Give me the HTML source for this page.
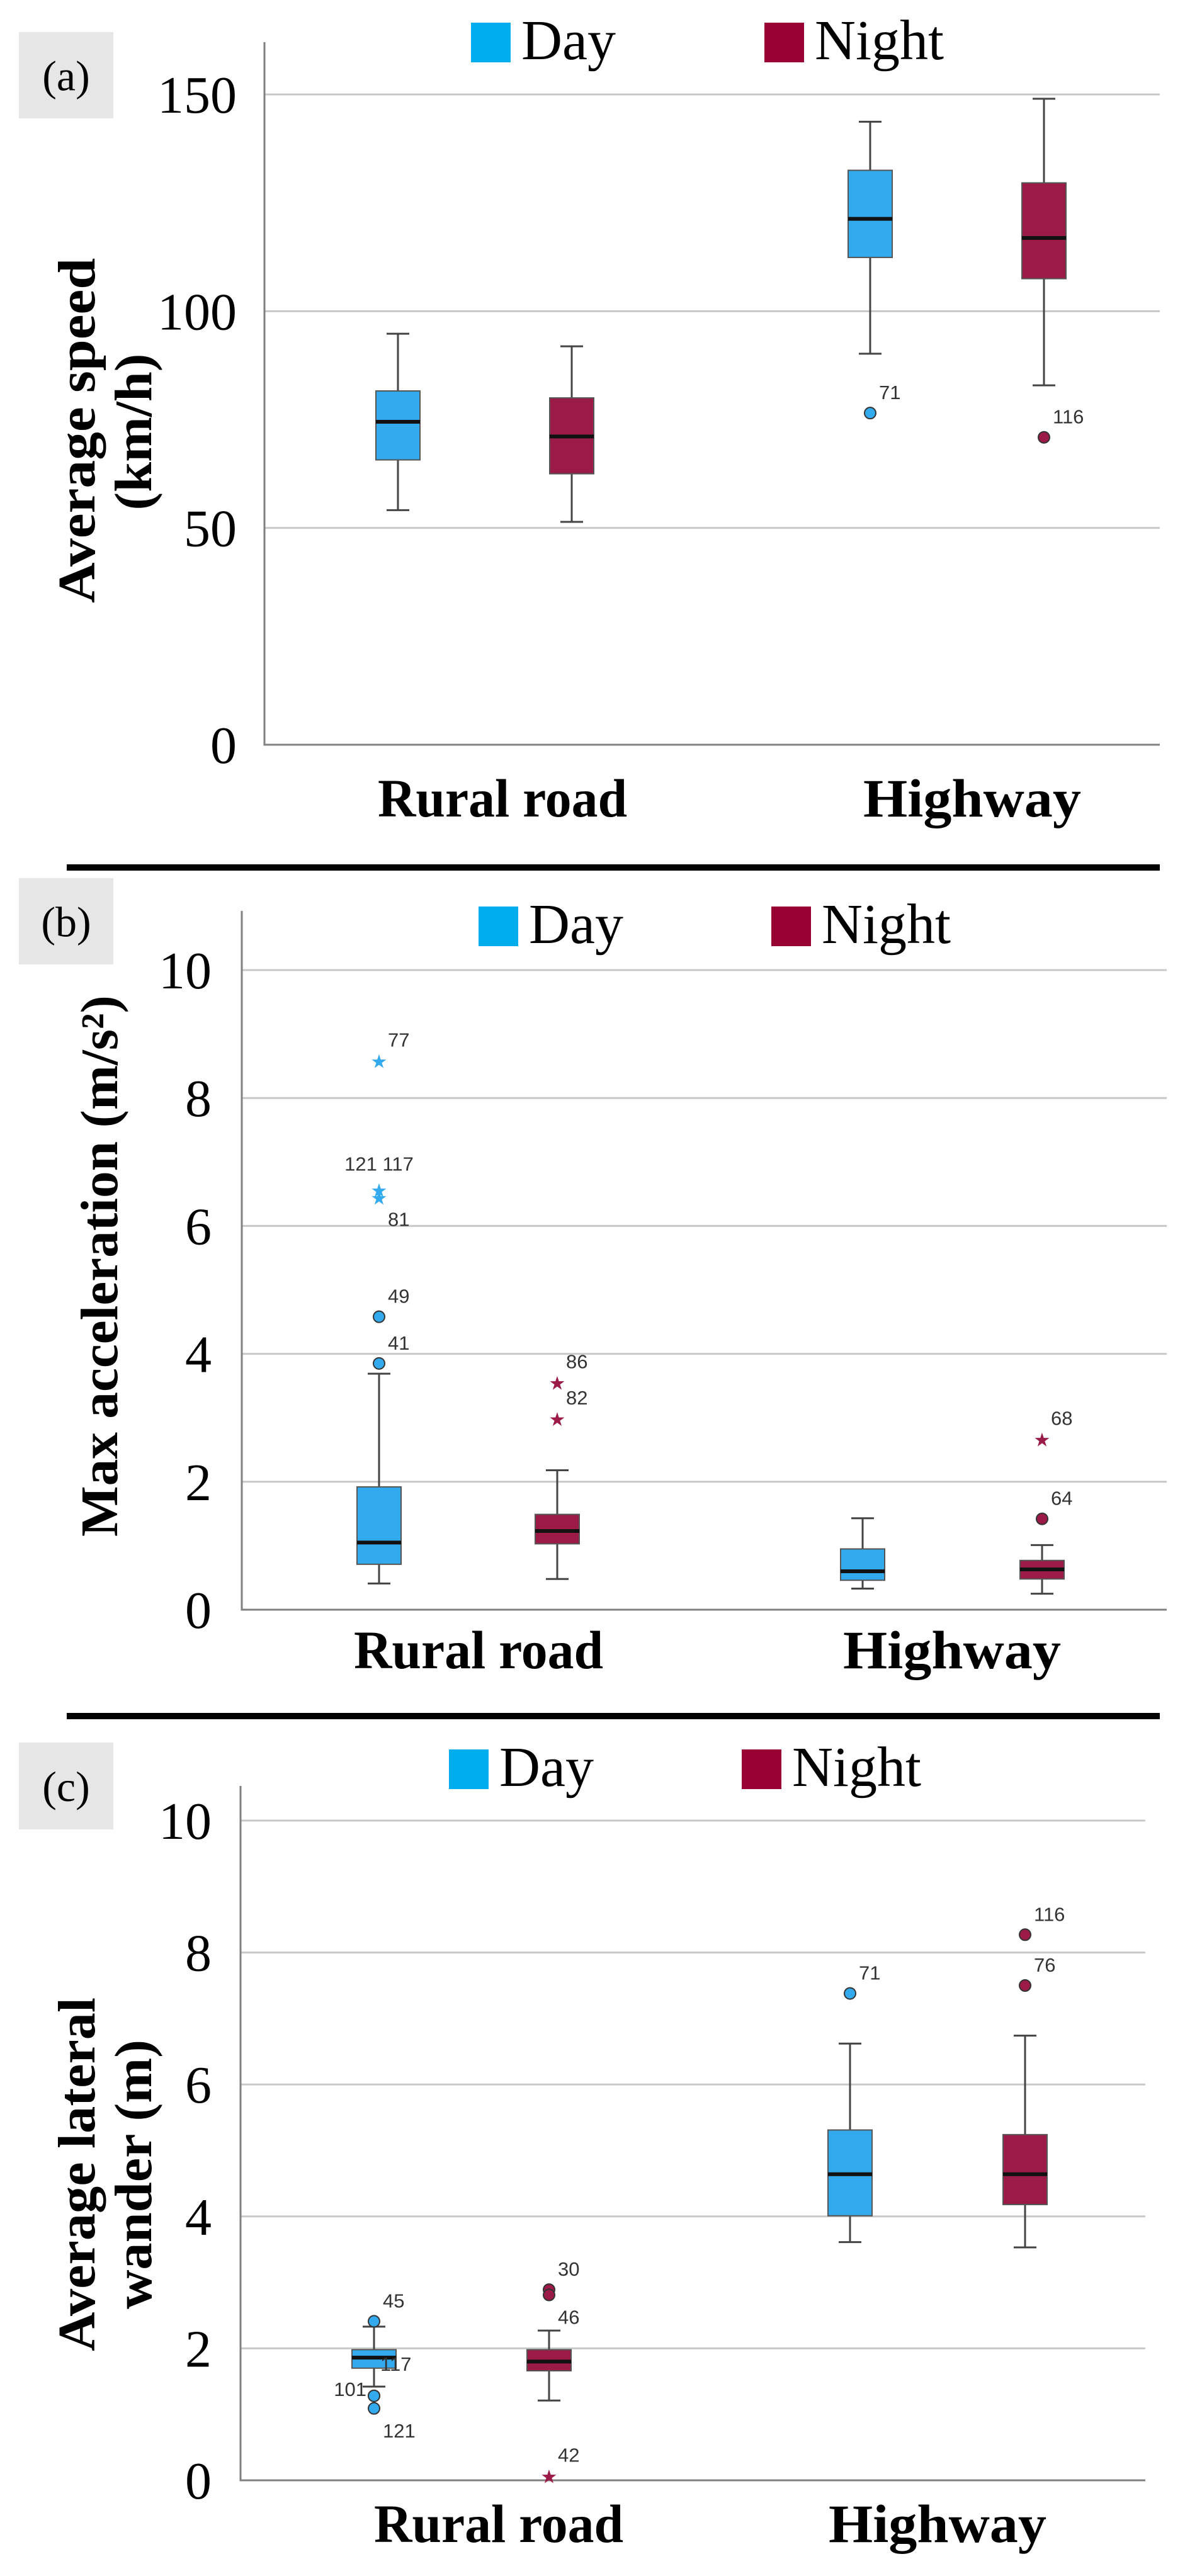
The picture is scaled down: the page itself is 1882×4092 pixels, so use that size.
<!DOCTYPE html>
<html><head><meta charset="utf-8"><style>
html,body{margin:0;padding:0;background:#fff;}
svg{display:block;}
</style></head><body>
<svg id="fig" width="1882" height="4092" viewBox="0 0 1882 4092" xmlns="http://www.w3.org/2000/svg"></svg>
<script>
// Panel (a) data: [low whisker, Q1, median, Q3, high whisker]
const categories = ["Rural road", "Highway"];
const dayA = [[54.1, 65.7, 74.5, 81.6, 94.8], [90.2, 112.4, 121.3, 132.5, 143.7]];
const nightA = [[51.4, 62.5, 71.1, 80.0, 91.9], [82.9, 107.5, 116.9, 129.6, 149.0]];
const outDayA = [[1, 76.5, "71", "c", "ne"]];
const outNightA = [[1, 70.9, "116", "c", "ne"]];
const ticksA = [0, 50, 100, 150];
// Panel (b)
const dayB = [[0.41, 0.71, 1.05, 1.92, 3.69], [0.33, 0.46, 0.60, 0.95, 1.43]];
const nightB = [[0.48, 1.03, 1.23, 1.49, 2.18], [0.25, 0.48, 0.63, 0.77, 1.01]];
const outDayB = [[0, 3.85, "41", "c", "ne"], [0, 4.58, "49", "c", "ne"], [0, 6.45, "81", "s", "se"], [0, 6.57, "121 117", "s", "n"], [0, 8.59, "77", "s", "ne"]];
const outNightB = [[0, 3.56, "86", "s", "ne"], [0, 2.99, "82", "s", "ne"], [1, 1.42, "64", "c", "ne"], [1, 2.67, "68", "s", "ne"]];
const ticksB = [0, 2, 4, 6, 8, 10];
// Panel (c)
const dayC = [[1.42, 1.70, 1.86, 1.98, 2.33], [3.61, 4.01, 4.64, 5.31, 6.62]];
const nightC = [[1.21, 1.66, 1.80, 1.98, 2.27], [3.53, 4.18, 4.64, 5.24, 6.74]];
const outDayC = [[0, 2.41, "45", "c", "ne"], [0, 1.28, "101", "c", "w"], [0, 1.28, "117", "c", "e117"], [0, 1.09, "121", "c", "se"], [1, 7.38, "71", "c", "ne"]];
const outNightC = [[0, 2.89, "30", "c", "ne"], [0, 2.81, "46", "c", "se"], [0, 0.07, "42", "s", "ne"], [1, 8.27, "116", "c", "ne"], [1, 7.50, "76", "c", "ne"]];
const ticksC = [0, 2, 4, 6, 8, 10];

const NS = "http://www.w3.org/2000/svg";
const svg = document.getElementById("fig");
function el(tag, attrs, parent, text) {
  const e = document.createElementNS(NS, tag);
  for (const k in attrs) e.setAttribute(k, attrs[k]);
  if (text !== undefined) e.textContent = text;
  (parent || svg).appendChild(e);
  return e;
}
const DAY = "#33aaee", NIGHT = "#9c1a48", DAYL = "#00aeef", NIGHTL = "#990033";
const LABPOS = {ne: [14, -22, "start"], se: [14, 46, "start"], n: [0, -30, "middle"], w: [-12, 0, "end"], e117: [10, -40, "start"]};

function panel(cfg) {
  const g = el("g", {});
  
  
  const y = v => cfg.y0 - (v - cfg.vmin) / (cfg.vmax - cfg.vmin) * (cfg.y0 - cfg.ytop);
  const lb = el("rect", {x: 30, y: cfg.lab[0], width: 150, height: cfg.lab[1] - cfg.lab[0], fill: "#e6e6e6"}, g);
  
  
  const lt = el("text", {x: 105, y: (cfg.lab[0] + cfg.lab[1]) / 2 + 24, "text-anchor": "middle", "font-family": "Liberation Serif, serif", "font-size": 68}, g, cfg.letter);
  
  
  cfg.ticks.forEach(t => {
    if (t !== cfg.vmin) {
      const gl = el("line", {x1: cfg.x0, x2: cfg.x1, y1: y(t), y2: y(t), stroke: "#c8c8c8", "stroke-width": 3}, g);
      
      
    }
    const tl = el("text", {x: cfg.tickX, y: y(t) + 29, "text-anchor": "end", "font-family": "Liberation Serif, serif", "font-size": 84}, g, String(t));
    
    
  });
  const ax = el("polyline", {points: `${cfg.x0},${cfg.ytopAxis} ${cfg.x0},${cfg.y0} ${cfg.x1},${cfg.y0}`, fill: "none", stroke: "#808080", "stroke-width": 3}, g);
  
  
  [[cfg.leg[0], DAYL, "Day"], [cfg.leg[1], NIGHTL, "Night"]].forEach(([lx, c, name]) => {
    const s = el("rect", {x: lx, y: cfg.legY, width: 63, height: 63, fill: c}, g);
    
    
    const t = el("text", {x: lx + 80, y: cfg.legY + 58, "font-family": "Liberation Serif, serif", "font-size": 90}, g, name);
    
    
  });
  cfg.ytitle.forEach(([txt, cx, cy, len]) => {
    const t = el("text", {x: 0, y: 0, transform: `translate(${cx + 28},${cy}) rotate(-90)`, "text-anchor": "middle", "font-family": "Liberation Serif, serif", "font-weight": "bold", "font-size": 84, textLength: len, lengthAdjust: "spacingAndGlyphs"}, g, txt);
    
    
  });
  categories.forEach((c, i) => {
    const t = el("text", {x: cfg.xlab[i], y: cfg.xlabY, "text-anchor": "middle", "font-family": "Liberation Serif, serif", "font-weight": "bold", "font-size": 86, textLength: i === 0 ? 396 : 346, lengthAdjust: "spacingAndGlyphs"}, g, c);
    
    
  });
  const W = 70;
  function box(vals, cx, fill, nm) {
    const [lo, q1, md, q3, hi] = vals;
    const bg = el("g", {}, g);
    
    
    el("line", {x1: cx, x2: cx, y1: y(hi), y2: y(q3), stroke: "#444", "stroke-width": 3}, bg);
    el("line", {x1: cx, x2: cx, y1: y(q1), y2: y(lo), stroke: "#444", "stroke-width": 3}, bg);
    el("line", {x1: cx - 18, x2: cx + 18, y1: y(hi), y2: y(hi), stroke: "#444", "stroke-width": 3}, bg);
    el("line", {x1: cx - 18, x2: cx + 18, y1: y(lo), y2: y(lo), stroke: "#444", "stroke-width": 3}, bg);
    el("rect", {x: cx - W / 2, y: y(q3), width: W, height: y(q1) - y(q3), fill: fill, stroke: "#555", "stroke-width": 2}, bg);
    el("line", {x1: cx - W / 2, x2: cx + W / 2, y1: y(md), y2: y(md), stroke: "#111", "stroke-width": 6}, bg);
  }
  function outs(list, centers, fill) {
    list.forEach(([ci, v, lab, kind, pos]) => {
      const cx = centers[ci];
      let m;
      if (kind === "c") {
        m = el("circle", {cx: cx, cy: y(v), r: 9, fill: fill, stroke: "#333", "stroke-width": 2}, g);
      } else {
        m = el("text", {x: cx, y: y(v) + 12, "text-anchor": "middle", "font-family": "DejaVu Sans, sans-serif", "font-size": 30, fill: fill}, g, "★");
      }
      
      
      const p = LABPOS[pos] || LABPOS.ne;
      const t = el("text", {x: cx + p[0], y: y(v) + p[1], "text-anchor": p[2], "font-family": "Liberation Sans, sans-serif", "font-size": 31, fill: "#333"}, g, lab);
      
      
    });
  }
  cfg.day.forEach((v, i) => box(v, cfg.dayX[i], DAY, 'box-day-' + i));
  cfg.night.forEach((v, i) => box(v, cfg.nightX[i], NIGHT, 'box-night-' + i));
  outs(cfg.outDay, cfg.dayX, DAY);
  outs(cfg.outNight, cfg.nightX, NIGHT);
}

panel({name: "panel-a-speed", letter: "(a)", lab: [51, 188], vmin: 0, vmax: 150, y0: 1183, ytop: 150, ytopAxis: 67,
  x0: 420, x1: 1842, tickX: 376, ticks: ticksA, leg: [748, 1214], legY: 36,
  ytitle: [["Average speed", 122, 684, 548], ["(km/h)", 212, 686, 249]], xlab: [798, 1544], xlabY: 1297,
  day: dayA, night: nightA, dayX: [632, 1382], nightX: [908, 1658], outDay: outDayA, outNight: outNightA});
panel({name: "panel-b-acceleration", letter: "(b)", lab: [1395, 1532], vmin: 0, vmax: 10, y0: 2557, ytop: 1541, ytopAxis: 1447,
  x0: 384, x1: 1853, tickX: 336, ticks: ticksB, leg: [760, 1225], legY: 1440,
  ytitle: [["Max acceleration (m/s²)", 158, 2011, 860]], xlab: [760, 1512], xlabY: 2650,
  day: dayB, night: nightB, dayX: [602, 1370], nightX: [885, 1655], outDay: outDayB, outNight: outNightB});
panel({name: "panel-c-lateral-wander", letter: "(c)", lab: [2768, 2906], vmin: 0, vmax: 10, y0: 3940, ytop: 2892, ytopAxis: 2837,
  x0: 382, x1: 1819, tickX: 336, ticks: ticksC, leg: [713, 1178], legY: 2779,
  ytitle: [["Average lateral", 122, 3454, 562], ["wander (m)", 212, 3454, 428]], xlab: [792, 1489], xlabY: 4038,
  day: dayC, night: nightC, dayX: [594, 1350], nightX: [872, 1628], outDay: outDayC, outNight: outNightC});

[1378, 2726].forEach(sy => {
  const s = el("rect", {x: 106, y: sy - 5, width: 1736, height: 10, fill: "#000"});
  
  
});
</script>
</body></html>
